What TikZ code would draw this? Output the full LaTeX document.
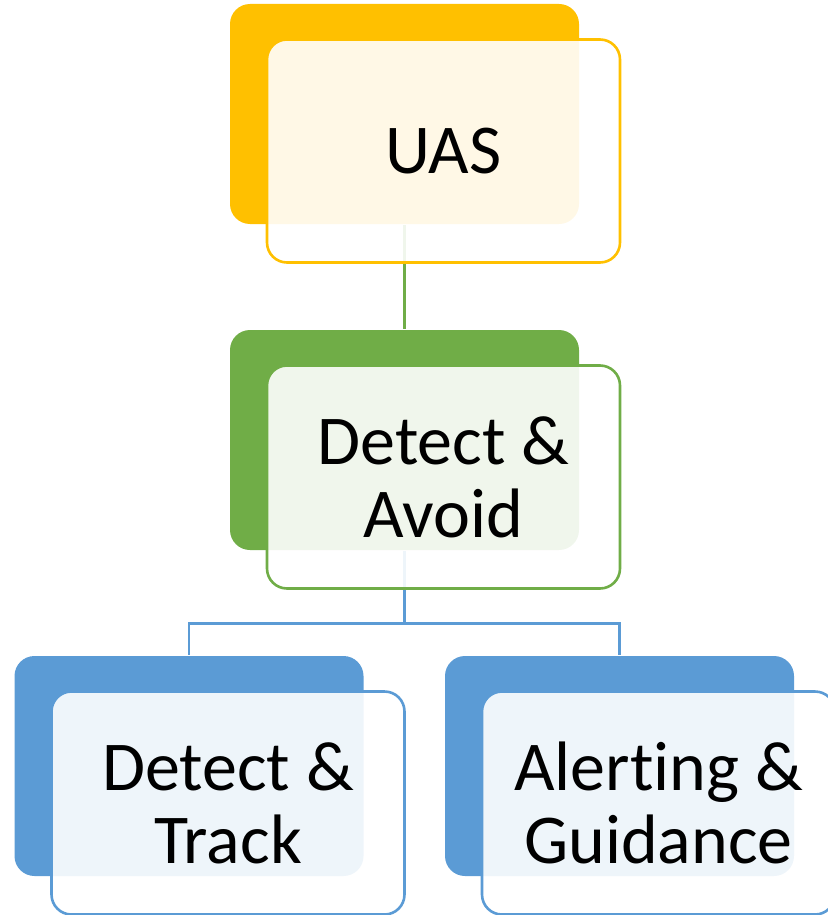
\documentclass[tikz,border=0pt]{standalone}
\usepackage{fontspec}
\setmainfont[RawFeature={-liga;-calt;-dlig;-clig}]{Carlito}
\usepackage{tikz}

\definecolor{uasyellow}{HTML}{FFC000}
\definecolor{dagreen}{HTML}{70AD47}
\definecolor{subblue}{HTML}{5B9BD5}

\begin{document}
\begin{tikzpicture}[
     x = 0.5pt, y = 0.5pt, % one unit is one pixel of the sketch
     line width = 1.3pt, % connector style
     font = \fontsize{35}{36.5}\selectfont
 ]

 \tikzstyle{backbox}=[
     rectangle,
     rounded corners = 10pt,
     minimum width = 174.5pt,
     minimum height = 110pt
 ]
 \tikzstyle{frontbox} = [
   rectangle,
   rounded corners = 10pt,
   line width = 1.3pt,
   fill = white,
   fill opacity = 0.9,
   text opacity = 1,
   align = center,
   inner sep = 0pt,
   minimum width = 176.5pt,
   minimum height = 111.5pt,
   xshift = 19.5pt,
   yshift = -18.5pt]

 \useasboundingbox (0,0) rectangle (828,-915);

 % back boxes
 \node[backbox, fill=uasyellow] (uasback) at (404.5,-114) {};
 \node[backbox, fill=dagreen] (daback) at (404.5,-440) {};
 \node[backbox, fill=subblue] (dtback) at (189,-766) {};
 \node[backbox, fill=subblue] (agback) at (619.5,-766) {};

 % connectors
 \draw[dagreen] (uasback.south) -- (daback.north);
 \draw[subblue] (daback.south) -- ++(0,-72) -| (dtback.north);
 \draw[subblue] (daback.south) -- ++(0,-72) -| (agback.north);

 % front boxes
 \node[frontbox, draw=uasyellow] (uas) at (uasback) {UAS};
 \node[frontbox, draw=dagreen] (da) at (daback) {Detect \&\\Avoid};
 \node[frontbox, draw=subblue] (dt) at (dtback) {Detect \&\\Track};
 \node[frontbox, draw=subblue] (ag) at (agback) {Alert\kern0pt ing \&\\Guidance};
\end{tikzpicture}
\end{document}
